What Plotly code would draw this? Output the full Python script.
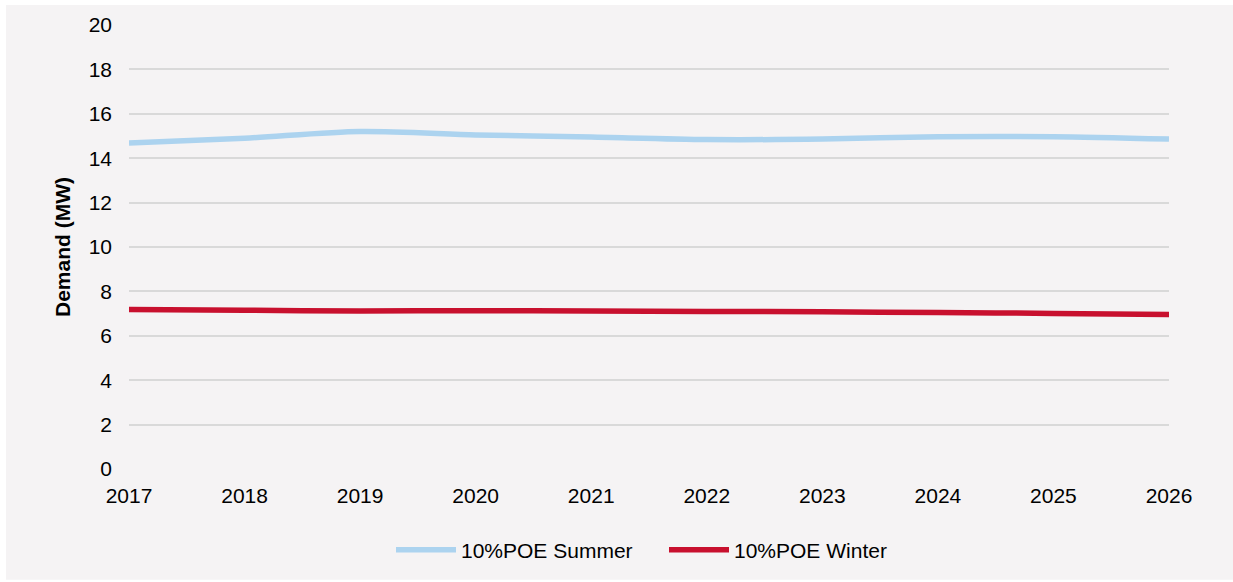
import plotly.graph_objects as go

years = [2017, 2018, 2019, 2020, 2021, 2022, 2023, 2024, 2025, 2026]
summer_10poe = [14.68, 14.90, 15.20, 15.05, 14.95, 14.84, 14.86, 14.97, 14.97, 14.86]
winter_10poe = [7.18, 7.15, 7.12, 7.13, 7.12, 7.10, 7.08, 7.05, 7.01, 6.96]
y_ticks = [0, 2, 4, 6, 8, 10, 12, 14, 16, 18, 20]

BG = "#f5f3f4"
FONT = "Liberation Sans, Arial, sans-serif"

fig = go.Figure()
fig.add_trace(go.Scatter(x=years, y=summer_10poe, mode="lines", name="10%POE Summer",
                         line=dict(color="#acd3ef", width=5.5, shape="spline", smoothing=0.8)))
fig.add_trace(go.Scatter(x=years, y=winter_10poe, mode="lines", name="10%POE Winter",
                         line=dict(color="#c8102e", width=5.5, shape="spline", smoothing=0.8)))

L, R, T, B = 129, 64, 25, 112
W, H = 1233, 582
pw, ph = W - L - R, H - T - B

# light grey chart panel with a thin white edge on the top and left
fig.add_shape(type="rect", xref="paper", yref="paper",
              x0=(6 - L) / pw, x1=(W + 10 - L) / pw,
              y0=-(H - 1 - T - ph) / ph, y1=(ph + T - 5) / ph,
              fillcolor=BG, line=dict(width=0), layer="below")

fig.update_layout(
    width=W, height=H,
    margin=dict(l=L, r=R, t=T, b=B),
    paper_bgcolor="white",
    plot_bgcolor="rgba(0,0,0,0)",
    font=dict(family=FONT, size=21, color="#000000"),
    showlegend=True,
    legend=dict(orientation="h", x=(391 - L) / pw, xanchor="left", y=-0.18, yanchor="middle",
                font=dict(size=21), bgcolor="rgba(0,0,0,0)", itemwidth=60,
                entrywidth=198, entrywidthmode="pixels"),
    xaxis=dict(range=[2017, 2026], tickmode="array", tickvals=years,
               ticktext=[str(y) for y in years], showgrid=False, zeroline=False,
               showline=False, ticks="", ticklabelstandoff=12),
    yaxis=dict(range=[0, 20], tickmode="array", tickvals=y_ticks,
               showgrid=True, gridcolor="#d9d9d9", gridwidth=1.5, zeroline=False,
               showline=False, ticks="", ticklabelstandoff=16,
               title=dict(text="<b>Demand (MW)</b>", font=dict(size=21), standoff=12)),
)

fig.write_html("out.html", config={"displayModeBar": False},
               post_script="document.body.style.margin='0';document.body.style.overflow='hidden';")
